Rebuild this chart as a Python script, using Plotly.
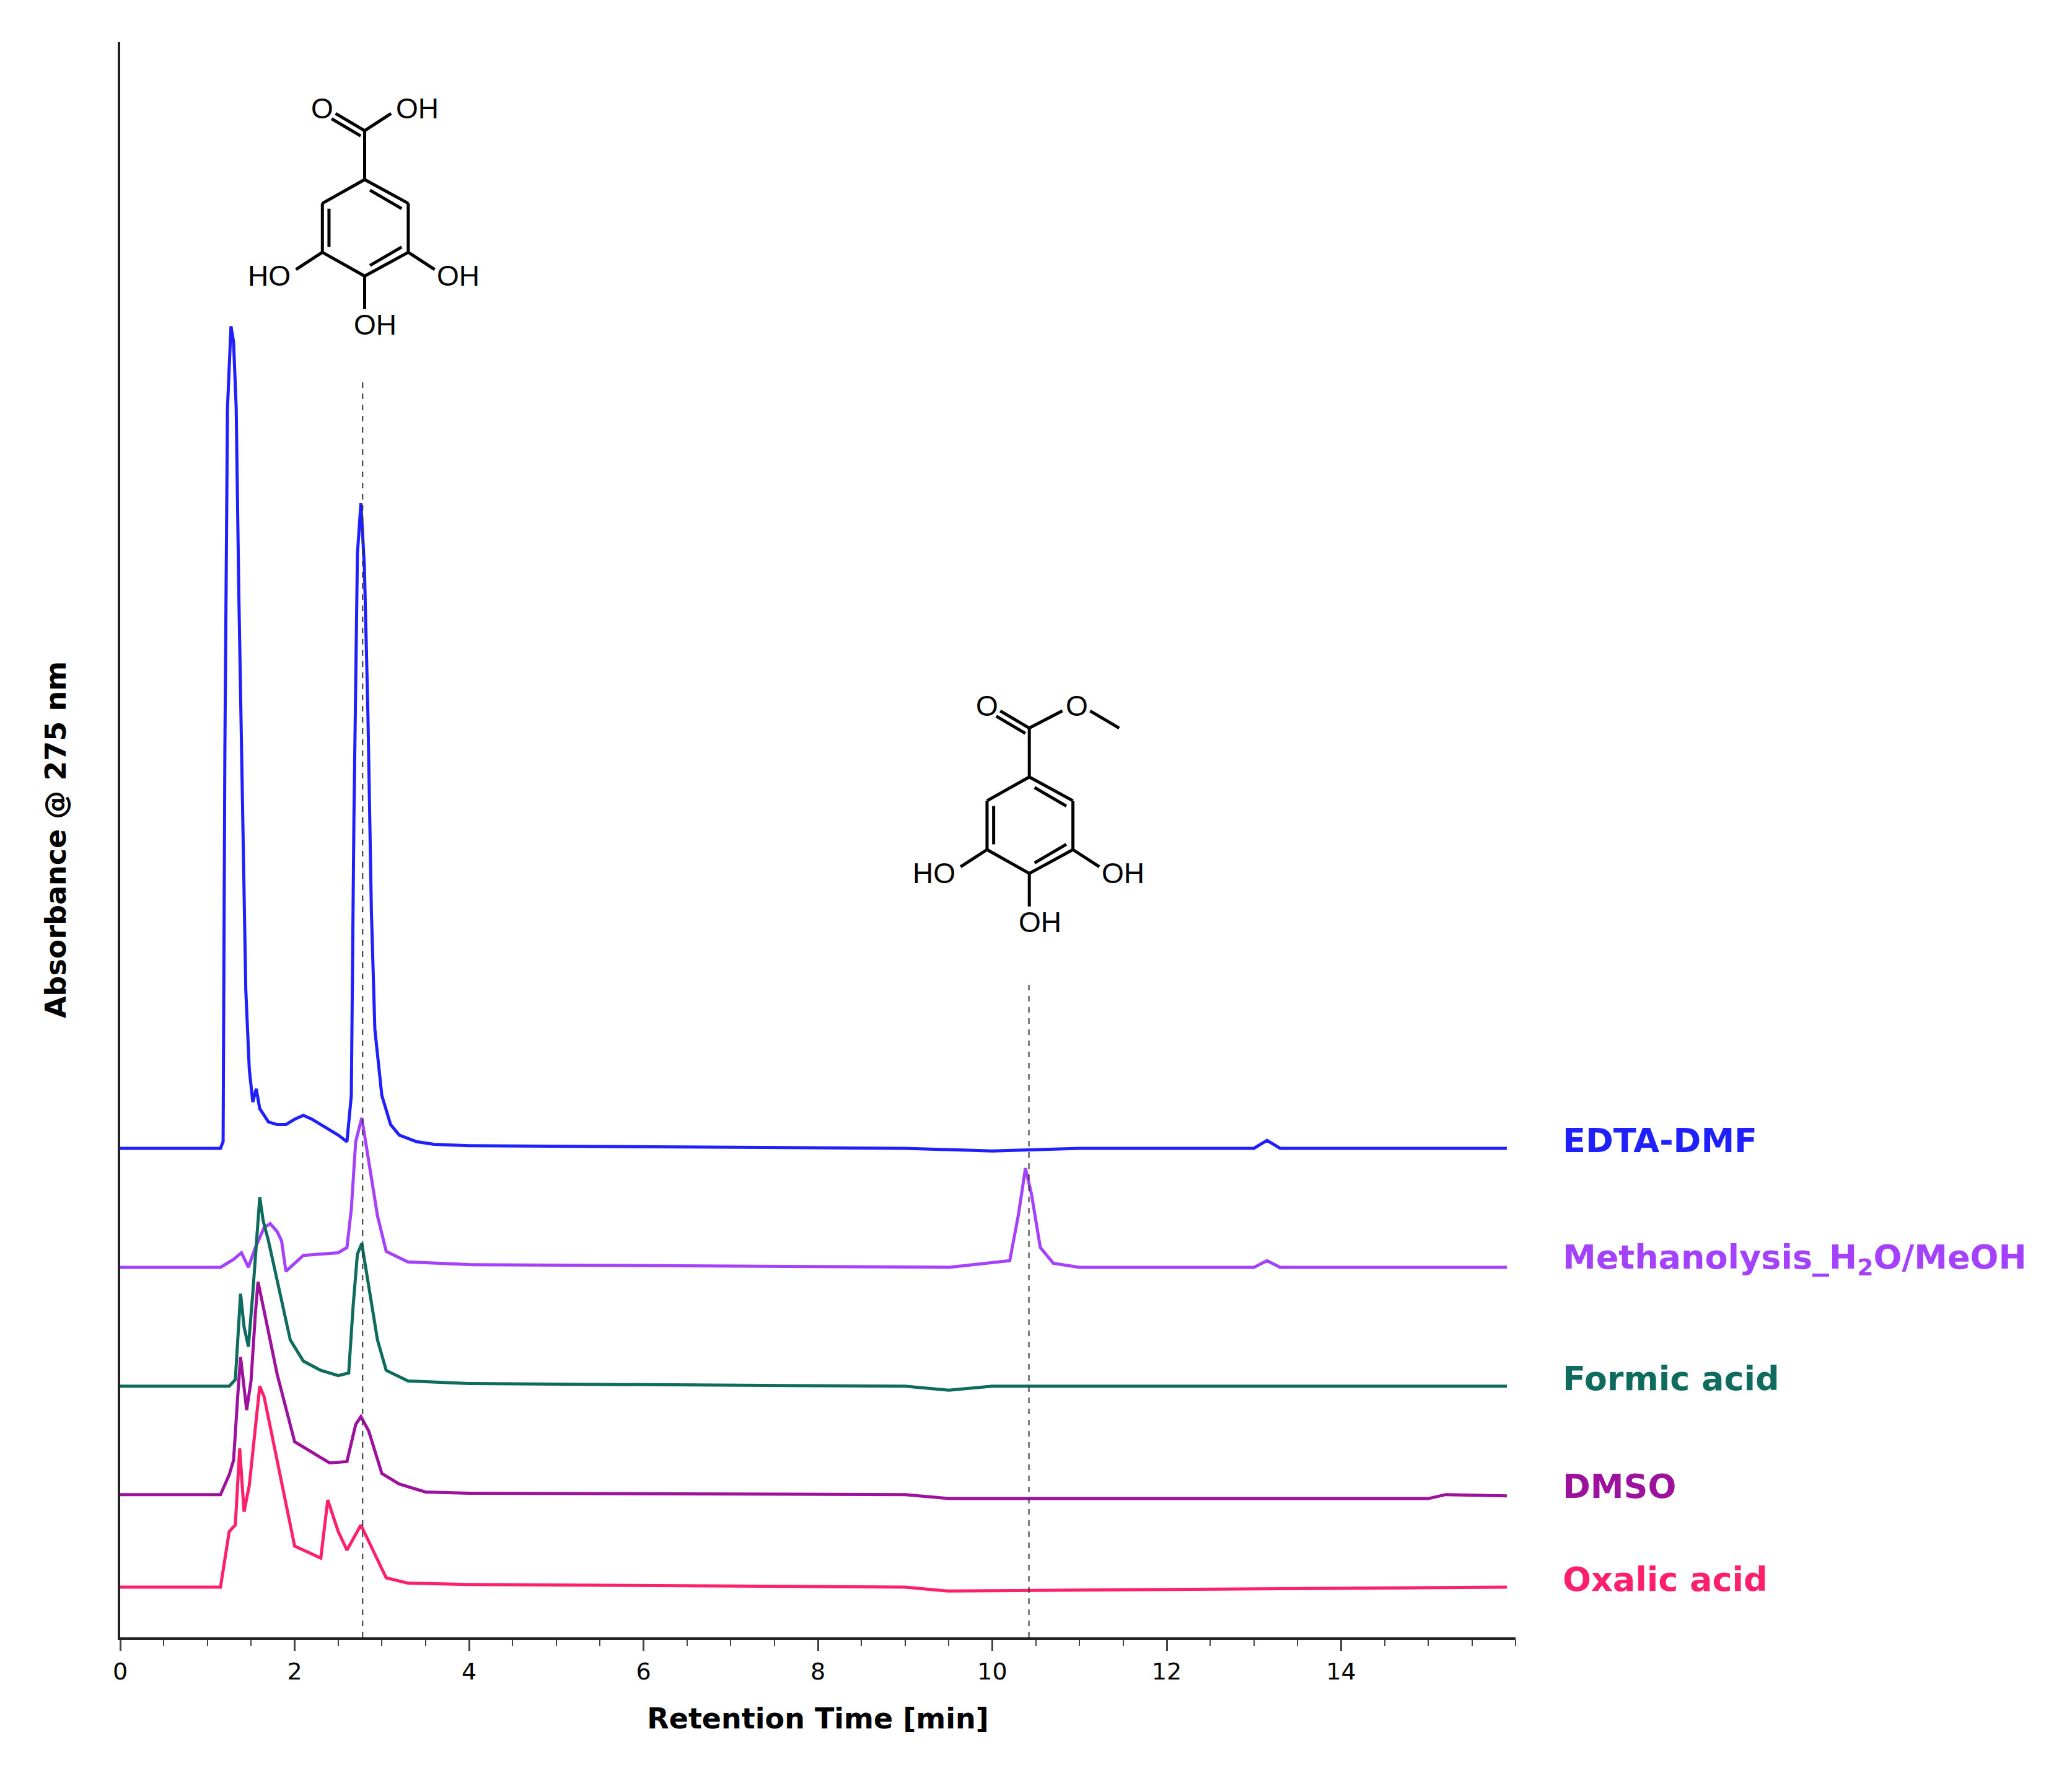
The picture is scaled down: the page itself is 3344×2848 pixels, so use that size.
import plotly.graph_objects as go

# Chromatogram data: retention time (min) and signal height above each trace's baseline (arbitrary units)
edta_t = [0, 1.15, 1.18, 1.2, 1.23, 1.27, 1.3, 1.33, 1.36, 1.4, 1.44, 1.48, 1.52, 1.56, 1.6, 1.7, 1.8, 1.9, 2.0, 2.1, 2.2, 2.3, 2.4, 2.5, 2.6, 2.65, 2.68, 2.72, 2.76, 2.8, 2.84, 2.88, 2.92, 3.0, 3.1, 3.2, 3.4, 3.6, 4.0, 6.0, 9.0, 10.0, 11.0, 13.0, 13.15, 13.3, 14.0, 15.9]
edta_y = [0, 0, 5, 300, 560, 622, 610, 560, 420, 260, 120, 60, 35, 45, 30, 20, 18, 18, 22, 25, 22, 18, 14, 10, 5, 40, 250, 450, 488, 440, 330, 180, 90, 40, 18, 10, 5, 3, 2, 1, 0, -2, 0, 0, 6, 0, 0, 0]

meth_t = [0, 1.15, 1.3, 1.39, 1.47, 1.55, 1.65, 1.72, 1.8, 1.85, 1.9, 2.1, 2.5, 2.6, 2.65, 2.7, 2.77, 2.85, 2.95, 3.05, 3.3, 4.0, 9.5, 10.2, 10.3, 10.38, 10.45, 10.55, 10.7, 11.0, 13.0, 13.15, 13.3, 15.9]
meth_y = [0, 0, 6, 11, 0, 15, 30, 33, 27, 20, -3, 9, 11, 15, 44, 95, 113, 79, 39, 12, 4, 2, 0, 5, 40, 75, 55, 15, 3, 0, 0, 5, 0, 0]

formic_t = [0, 1.25, 1.32, 1.38, 1.42, 1.47, 1.52, 1.57, 1.6, 1.64, 1.7, 1.8, 1.9, 1.95, 2.1, 2.3, 2.5, 2.62, 2.67, 2.72, 2.77, 2.85, 2.95, 3.05, 3.3, 4.0, 9.0, 9.5, 10.0, 15.9]
formic_y = [0, 0, 5, 70, 45, 30, 70, 120, 143, 125, 110, 80, 50, 35, 19, 12, 8, 10, 60, 100, 108, 75, 35, 12, 4, 2, 0, -3, 0, 0]

dmso_t = [0, 1.15, 1.25, 1.3, 1.35, 1.38, 1.45, 1.5, 1.55, 1.58, 1.65, 1.8, 2.0, 2.2, 2.4, 2.6, 2.7, 2.76, 2.85, 3.0, 3.2, 3.5, 4.0, 9.0, 9.5, 15.0, 15.2, 15.9]
dmso_y = [0, 0, 15, 26, 77, 104, 64, 86, 137, 161, 139, 91, 40, 32, 24, 25, 53, 59, 48, 16, 8, 2, 1, 0, -3, -3, 0, -1]

oxal_t = [0, 1.15, 1.25, 1.32, 1.37, 1.42, 1.48, 1.55, 1.6, 1.65, 1.8, 2.0, 2.3, 2.38, 2.5, 2.6, 2.76, 2.9, 3.05, 3.3, 4.0, 9.0, 9.5, 15.9]
oxal_y = [0, 0, 42, 47, 105, 57, 77, 120, 152, 144, 96, 31, 22, 66, 42, 28, 47, 28, 7, 3, 2, 0, -3, 0]

names = ["EDTA-DMF", "Methanolysis_H<sub>2</sub>O/MeOH", "Formic acid", "DMSO", "Oxalic acid"]
offsets = [370, 280, 190, 108, 38]
colors = ["#1f1fff", "#a341ff", "#0f6b5e", "#9c129c", "#ff1f6b"]
xticks = [0, 2, 4, 6, 8, 10, 12, 14]

series = [(edta_t, edta_y), (meth_t, meth_y), (formic_t, formic_y), (dmso_t, dmso_y), (oxal_t, oxal_y)]

fig = go.Figure()
for (t, y), off, c, n in zip(series, offsets, colors, names):
    fig.add_trace(go.Scatter(x=t, y=[v + off for v in y], mode="lines",
                             line=dict(color=c, width=5), name=n, showlegend=False))
    fig.add_annotation(x=1.033, y=off + 6, xref="paper", yref="y", text="<b>%s</b>" % n,
                       showarrow=False, xanchor="left", font=dict(color=c, size=54, family="DejaVu Sans"))

# dashed reference lines
fig.add_shape(type="line", x0=2.78, x1=2.78, y0=0, y1=952, line=dict(color="#333", width=2, dash="dash"))
fig.add_shape(type="line", x0=10.42, x1=10.42, y0=0, y1=497, line=dict(color="#333", width=2, dash="dash"))

# molecule drawings (display-pixel coordinates converted to data)
def X(px): return (px - 87) / 66.0
def Y(py): return 1235 - py

def molecule(dx, dy, ester):
    ring = [(272, 132), (305, 150), (305, 187), (272, 205), (240, 187), (240, 150), (272, 132)]
    segs = [(ring[i], ring[i + 1]) for i in range(6)]
    inner = [((276, 140), (300, 154)), ((300, 183), (276, 197)), ((245, 154), (245, 183))]
    segs += inner
    segs += [((272, 132), (272, 95)), ((305, 187), (325, 200)), ((240, 187), (220, 200)), ((272, 205), (272, 230))]
    if ester:
        segs += [((272, 95), (250, 82)), ((269, 99), (247, 86)), ((272, 95), (297, 82)), ((318, 82), (340, 95))]
    else:
        segs += [((272, 95), (250, 82)), ((269, 99), (247, 86)), ((272, 95), (292, 82))]
    for (a, b) in segs:
        fig.add_shape(type="line", x0=X(a[0] + dx), y0=Y(a[1] + dy), x1=X(b[0] + dx), y1=Y(b[1] + dy),
                      line=dict(color="black", width=5))
    labels = [(240, 78, "O"), (200, 205, "HO"), (343, 205, "OH"), (280, 242, "OH")]
    labels += [(308, 78, "O")] if ester else [(312, 78, "OH")]
    for (lx, ly, s) in labels:
        fig.add_annotation(x=X(lx + dx), y=Y(ly + dy), text=s, showarrow=False,
                           font=dict(size=46, color="black", family="Liberation Sans"))

molecule(0, 0, False)
molecule(503, 452, True)

fig.update_layout(
    width=3344, height=2848, plot_bgcolor="white", paper_bgcolor="white",
    margin=dict(l=186, r=906, t=60, b=214),
    font=dict(family="DejaVu Sans", color="black"),
)
fig.update_xaxes(range=[0, 16.0], tickvals=xticks, ticks="outside", ticklen=18, tickwidth=3,
                 showline=True, linewidth=4, linecolor="#222", showgrid=False, zeroline=False,
                 tickfont=dict(size=38), minor=dict(dtick=0.5, ticks="outside", ticklen=10, tickwidth=2),
                 title=dict(text="<b>Retention Time [min]</b>", font=dict(size=46), standoff=40))
fig.update_yaxes(range=[0, 1207], showticklabels=False, ticks="", showline=True, linewidth=4,
                 linecolor="#222", showgrid=False, zeroline=False,
                 title=dict(text="<b>Absorbance @ 275 nm</b>", font=dict(size=46), standoff=70))
fig.write_html("out.html")
